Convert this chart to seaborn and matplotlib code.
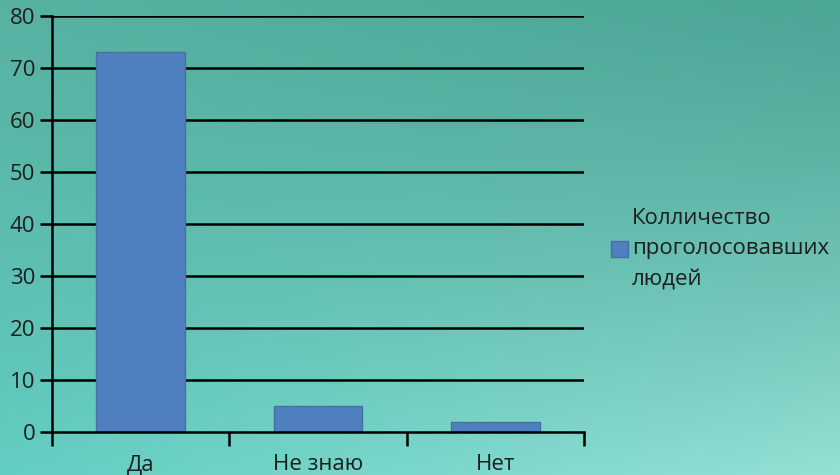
import numpy as np
import matplotlib
matplotlib.use("Agg")
import matplotlib.pyplot as plt
import seaborn as sns
import pandas as pd

categories = ["Да", "Не знаю", "Нет"]
votes = [73, 5, 2]
series_name = "Колличество\nпроголосовавших\nлюдей"

df = pd.DataFrame({"answer": categories, "votes": votes})

sns.set_style("white")
plt.rcParams["font.family"] = ["Open Sans", "DejaVu Sans"]

fig = plt.figure(figsize=(8.4, 4.75), dpi=100)

# teal gradient background (corner colours, blended)
bg = fig.add_axes([0, 0, 1, 1], zorder=-10)
h, w = 240, 420
yy, xx = np.mgrid[0:1:h * 1j, 0:1:w * 1j]
tl = np.array([88, 178, 162]) / 255
tr = np.array([76, 166, 150]) / 255
bl = np.array([98, 206, 194]) / 255
br = np.array([148, 225, 213]) / 255
yv = (yy ** 1.3)[..., None]
xv = xx[..., None]
top = tl + (tr - tl) * xv
bot = bl + (br - bl) * xv
img = top + (bot - top) * yv
bg.imshow(img, aspect="auto", extent=[0, 1, 0, 1], interpolation="bilinear")
bg.axis("off")

ax = fig.add_axes([52 / 840, 43 / 475, 532 / 840, 416 / 475])
ax.set_facecolor("none")

sns.barplot(data=df, x="answer", y="votes", color="#4F7FBE", width=0.5,
            saturation=1, edgecolor="#45709f", linewidth=1, ax=ax,
            label=series_name, zorder=3)

ax.set_ylim(0, 80)
ax.set_xlim(-0.5, 2.5)
ax.set_yticks(range(0, 81, 10))
for yv_ in range(10, 81, 10):
    ax.axhline(yv_, color="black", lw=1.8, zorder=1)

ax.set_xticks([-0.5, 0.5, 1.5, 2.5])
ax.set_xticklabels([])
ax.set_xticks([0, 1, 2], minor=True)
ax.set_xticklabels(categories, minor=True)
ax.tick_params(axis="x", which="major", direction="out", length=10, width=1.8,
               color="black", bottom=True)
ax.tick_params(axis="x", which="minor", length=0, pad=16, labelsize=16,
               labelcolor="#1e1e1e")
ax.tick_params(axis="y", direction="out", length=9, width=1.8, color="black",
               left=True, pad=3, labelsize=16, labelcolor="#1e1e1e")
ax.set_xlabel("")
ax.set_ylabel("")

for side in ["top", "right"]:
    ax.spines[side].set_visible(False)
for side in ["left", "bottom"]:
    ax.spines[side].set_color("black")
    ax.spines[side].set_linewidth(1.8)
    ax.spines[side].set_zorder(4)

leg = ax.legend(loc="center left", bbox_to_anchor=(1.013, 0.44), frameon=False,
                fontsize=16, handlelength=0.75, handleheight=0.75,
                handletextpad=0.2, labelcolor="#1e1e1e")
for txt in leg.get_texts():
    txt.set_linespacing(1.6)

fig.savefig("out.png", dpi=100)
